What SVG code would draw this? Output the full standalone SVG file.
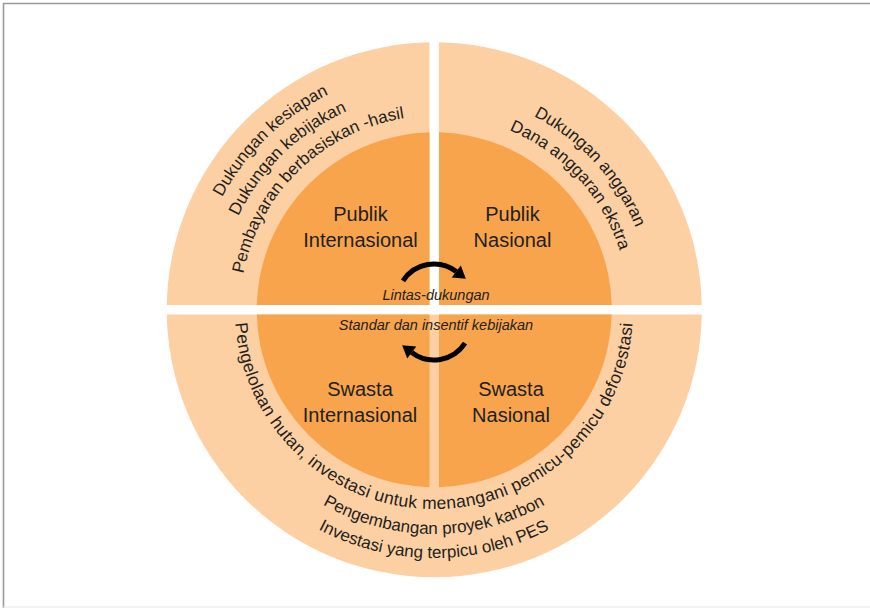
<svg xmlns="http://www.w3.org/2000/svg" width="870" height="608" viewBox="0 0 870 608">
  <style>
    .ring { fill: #FCD0A2; }
    .core { fill: #F8A44C; }
    .lbl { font-family: "Liberation Sans", Arial, sans-serif; font-size: 20px; fill: #231f20; text-anchor: middle; }
    .arc { font-family: "Liberation Sans", Arial, sans-serif; font-size: 17px; fill: #231f20; }
    .arc.wide { font-size: 17.5px; letter-spacing: 0.3px; }
    .note { font-family: "Liberation Sans", Arial, sans-serif; font-size: 14.5px; font-style: italic; fill: #231f20; text-anchor: middle; }
    .flow { fill: none; stroke: #000; stroke-width: 5; }
    .frame { stroke: #9a9a9a; stroke-width: 1.6; fill: none; }
  </style>
  <defs>
    <clipPath id="cTL"><rect x="0" y="0" width="429.5" height="305"/></clipPath>
    <clipPath id="cTR"><rect x="439" y="0" width="431" height="305"/></clipPath>
    <clipPath id="cB"><rect x="0" y="314.5" width="870" height="300"/></clipPath>
    <clipPath id="cBL"><rect x="0" y="314.5" width="429.5" height="300"/></clipPath>
    <clipPath id="cBR"><rect x="439" y="314.5" width="431" height="300"/></clipPath>
    <!-- baselines for the curved ring texts -->
    <path id="tl1" d="M201.13,368.06 A240,240 0 0 1 500.14,79.29"/>
    <path id="tl2" d="M223.45,362.49 A217,217 0 0 1 493.81,101.4"/>
    <path id="tl3" d="M245.76,356.93 A194,194 0 0 1 487.47,123.51"/>
    <path id="tr1" d="M386.82,97.17 A218,218 0 0 1 641.91,375.55"/>
    <path id="tr2" d="M391.8,119.62 A195,195 0 0 1 619.97,368.64"/>
    <path id="b1" d="M235.76,292.65 A199,199 0 1 0 632.24,292.65"/>
    <path id="b2" d="M240.01,422 A224,224 0 0 0 627.99,422"/>
    <path id="b3" d="M219.23,434 A248,248 0 0 0 648.77,434"/>
  </defs>

  <rect width="870" height="608" fill="#fff"/>
  <!-- page frame -->
  <line class="frame" x1="3" y1="3.5" x2="870" y2="3.5"/>
  <line class="frame" x1="3.5" y1="3" x2="3.5" y2="608"/>
  <line x1="3" y1="607" x2="870" y2="607" stroke="#e6e6e6" stroke-width="1"/>

  <!-- outer ring: public support (top) and private investment (bottom) -->
  <g id="ring-publik-internasional">
    <circle class="ring" cx="434.25" cy="309.75" r="267.5" clip-path="url(#cTL)"/>
    <text class="arc"><textPath href="#tl1" startOffset="50%" text-anchor="middle">Dukungan kesiapan</textPath></text>
    <text class="arc"><textPath href="#tl2" startOffset="50%" text-anchor="middle">Dukungan kebijakan</textPath></text>
    <text class="arc"><textPath href="#tl3" startOffset="50%" text-anchor="middle">Pembayaran berbasiskan -hasil</textPath></text>
  </g>
  <g id="ring-publik-nasional">
    <circle class="ring" cx="434.25" cy="309.75" r="267.5" clip-path="url(#cTR)"/>
    <text class="arc"><textPath href="#tr1" startOffset="50%" text-anchor="middle">Dukungan anggaran</textPath></text>
    <text class="arc"><textPath href="#tr2" startOffset="50%" text-anchor="middle">Dana anggaran ekstra</textPath></text>
  </g>
  <g id="ring-swasta">
    <circle class="ring" cx="434.25" cy="309.75" r="267.5" clip-path="url(#cB)"/>
  </g>

  <!-- inner quadrants -->
  <g id="publik-internasional">
    <circle class="core" cx="434.25" cy="309.75" r="177.5" clip-path="url(#cTL)"/>
    <text class="lbl" x="360.5" y="221">Publik</text>
    <text class="lbl" x="360.5" y="247">Internasional</text>
  </g>
  <g id="publik-nasional">
    <circle class="core" cx="434.25" cy="309.75" r="177.5" clip-path="url(#cTR)"/>
    <text class="lbl" x="512.5" y="221">Publik</text>
    <text class="lbl" x="512.5" y="247">Nasional</text>
  </g>
  <g id="swasta-internasional">
    <circle class="core" cx="434.25" cy="309.75" r="177.5" clip-path="url(#cBL)"/>
    <text class="lbl" x="360" y="396">Swasta</text>
    <text class="lbl" x="360" y="422">Internasional</text>
  </g>
  <g id="swasta-nasional">
    <circle class="core" cx="434.25" cy="309.75" r="177.5" clip-path="url(#cBR)"/>
    <text class="lbl" x="511" y="396">Swasta</text>
    <text class="lbl" x="511" y="422">Nasional</text>
  </g>

  <!-- bottom ring text, drawn over the ring -->
  <g id="ring-swasta-text">
    <text class="arc wide"><textPath href="#b1" startOffset="50%" text-anchor="middle">Pengelolaan hutan, investasi untuk menangani pemicu-pemicu deforestasi</textPath></text>
    <text class="arc"><textPath href="#b2" startOffset="50%" text-anchor="middle">Pengembangan proyek karbon</textPath></text>
    <text class="arc"><textPath href="#b3" startOffset="50%" text-anchor="middle">Investasi yang terpicu oleh PES</textPath></text>
  </g>

  <!-- connectors: exchange arrows between public and private halves -->
  <g id="connectors">
    <g id="arrow-lintas">
      <path class="flow" d="M402.97,280.85 A37,37 0 0 1 456.27,271.45"/>
      <polygon points="451.76,277.44 460.78,265.46 465.85,278.67" fill="#000"/>
    </g>
    <g id="arrow-standar" transform="rotate(180 434 312)">
      <path class="flow" d="M402.97,280.85 A37,37 0 0 1 456.27,271.45"/>
      <polygon points="451.76,277.44 460.78,265.46 465.85,278.67" fill="#000"/>
    </g>
    <text class="note" x="436" y="300">Lintas-dukungan</text>
    <text class="note" x="436" y="330">Standar dan insentif kebijakan</text>
  </g>
</svg>
